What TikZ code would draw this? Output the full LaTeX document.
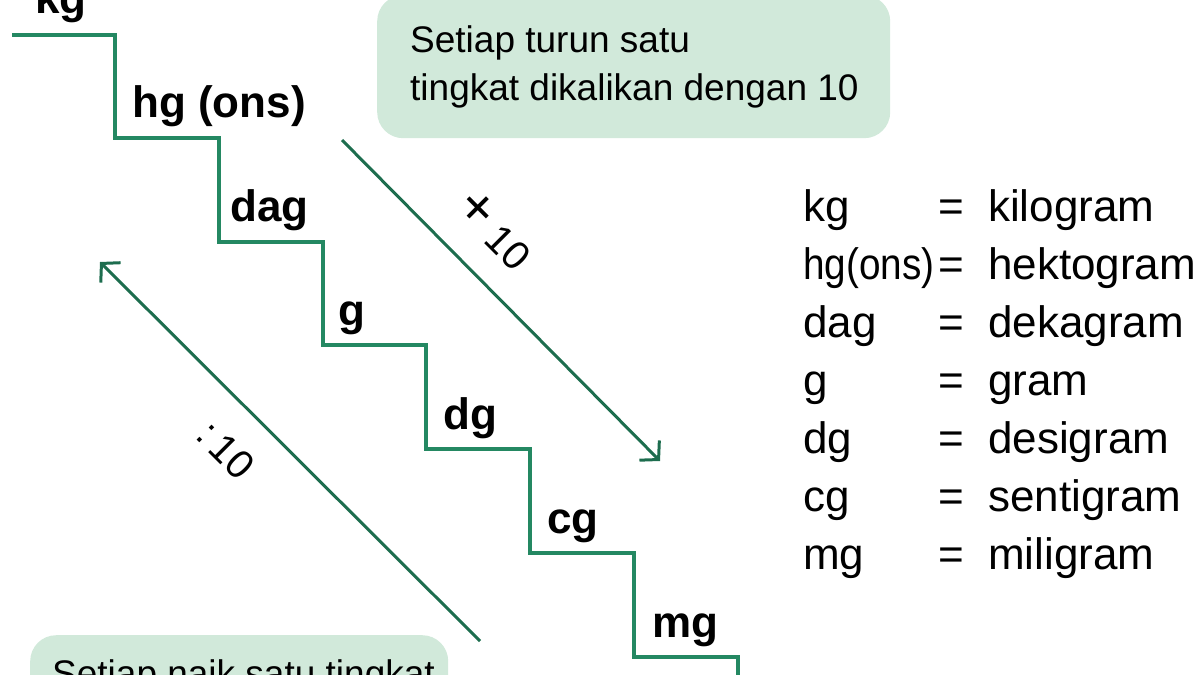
\documentclass[tikz,border=0pt]{standalone}
\usepackage{fontspec}
\setmainfont{Liberation Sans}
\usetikzlibrary{arrows.meta}
\definecolor{stairgreen}{RGB}{36,136,98}
\definecolor{boxgreen}{RGB}{209,233,218}
\begin{document}
\begin{tikzpicture}
    [x=1pt,y=-1pt,
     stair/.style={stairgreen,line width=4pt},
     unit/.style={anchor=base west,inner sep=0pt,font=\bfseries\fontsize{44}{50}\selectfont},
     factor/.style={stairgreen!80!black,line width=3pt,-{Straight Barb[length=13pt,width=28pt]}},
     factorlabel/.style={rotate=-45,font=\fontsize{40}{44}\selectfont},
     callout/.style={fill=boxgreen,rounded corners=26pt,anchor=north west},
     callouttext/.style={anchor=base west,align=left,inner sep=0pt,font=\fontsize{37}{48}\selectfont},
     legend/.style={anchor=base west,inner sep=0pt,font=\fontsize{44}{50}\selectfont}]
  \useasboundingbox (0,0) rectangle (1200,675);
  % callout boxes
  \node (downbox) [callout,minimum width=513pt,minimum height=143pt] at (377,-5) {};
  \node (downtext) [callouttext] at (410,100) {Setiap turun satu\\tingkat dikalikan dengan 10};
  \node (upbox) [callout,minimum width=418pt,minimum height=120pt] at (30,635) {};
  \node (uptext) [callouttext] at (52,686) {Setiap naik satu tingkat};
  % staircase corners
  \foreach \i in {0,...,5}
    \coordinate (s\i) at (115+103.8*\i,138+103.7*\i);
  \coordinate (start) at (12,35);
  \coordinate (end) at (738,700);
  \draw[stair] (start) -| (s0) -| (s1) -| (s2) -| (s3) -| (s4) -| (s5) -| (end);
  % units on the steps
  \node (kg) [unit] at (35,13) {kg};
  \node (hg) [unit] at (132,117) {hg (ons)};
  \node (dag) [unit] at (230,221) {dag};
  \node (g) [unit] at (338,325) {g};
  \node (dg) [unit] at (443,429) {dg};
  \node (cg) [unit] at (547,533) {cg};
  \node (mg) [unit] at (652,637) {mg};
  % factor arrows
  \coordinate (downfrom) at (342,140);
  \coordinate (downto) at (660,461);
  \coordinate (upfrom) at (480,641);
  \coordinate (upto) at (100,262);
  \draw[factor] (downfrom) -- (downto);
  \draw[factor] (upfrom) -- (upto);
  \node (times) [factorlabel] at (495,230) {\raisebox{2pt}{\scalebox{1.4}{+}} 10};
  \node (divide) [factorlabel] at (226,450) {:\,10};
  % legend
  \foreach \abbr/\name [count=\i] in {kg/kilogram,{\scalebox{0.88}[1]{hg(ons)}}/hektogram,dag/dekagram,g/gram,dg/desigram,cg/sentigram,mg/miligram}
  {
    \node (ab\i) [legend] at (803,221+58*\i-58) {\abbr};
    \node (eq\i) [legend] at (938,221+58*\i-58) {=};
    \node (nm\i) [legend] at (988,221+58*\i-58) {\name};
  }
\end{tikzpicture}
\end{document}
